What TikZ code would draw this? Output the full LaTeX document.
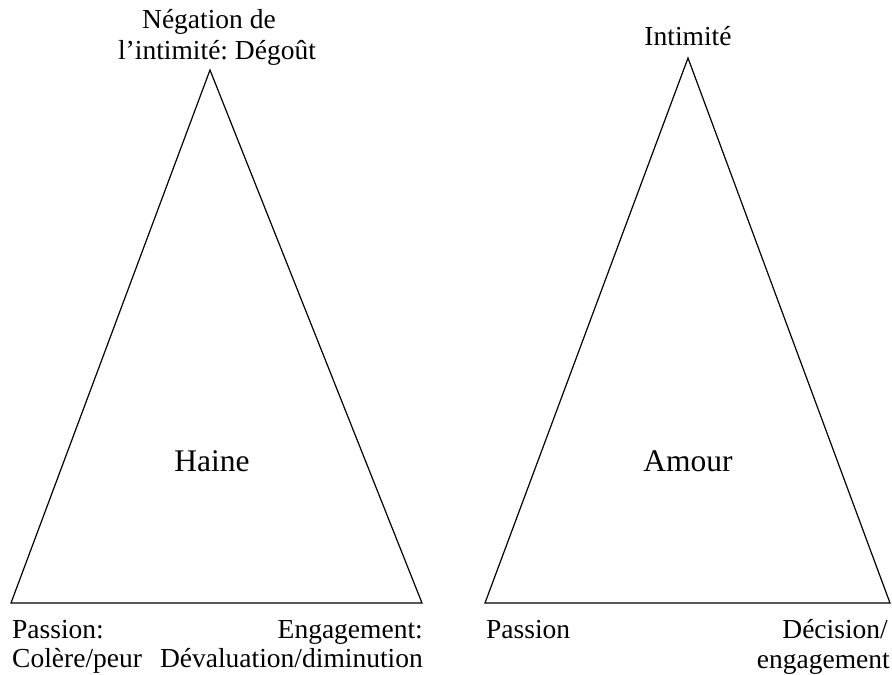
\documentclass[tikz,border=0pt]{standalone}
\usepackage{fontspec}
\setmainfont{Liberation Serif}
\frenchspacing
\begin{document}
\begin{tikzpicture}[x=1pt,y=-1pt,
  tri/.style={draw=black,line width=1.2pt,line join=miter},
  lbl/.style={inner sep=0pt,font=\fontsize{27.5}{31}\selectfont},
  big/.style={inner sep=0pt,font=\fontsize{31.5}{36}\selectfont}]
\useasboundingbox (0,0) rectangle (892,675);

% Hate triangle
\coordinate (hA) at (210,70);
\coordinate (hL) at (11,603);
\coordinate (hR) at (422,603);
\draw[tri] (hA) -- (hL) -- (hR) -- cycle;
\node[big,anchor=base] (haine) at (212,471) {Haine};
\node[lbl,anchor=base] (hTop1) at (209,28) {Négation de};
\node[lbl,anchor=base] (hTop2) at (217,59) {l’intimité: Dégoût};
\node[lbl,anchor=base west] (hBL1) at (12,638) {Passion:};
\node[lbl,anchor=base west] (hBL2) at (12,667) {Colère/peur};
\node[lbl,anchor=base east] (hBR1) at (423,638) {Engagement:};
\node[lbl,anchor=base east] (hBR2) at (423,667) {Dévaluation/diminution};

% Love triangle
\coordinate (aA) at (688,58);
\coordinate (aL) at (485,603);
\coordinate (aR) at (890,603);
\draw[tri] (aA) -- (aL) -- (aR) -- cycle;
\node[big,anchor=base] (amour) at (688,471) {Amour};
\node[lbl,anchor=base] (aTop) at (688,45) {Intimité};
\node[lbl,anchor=base west] (aBL) at (486,638) {Passion};
\node[lbl,anchor=base east] (aBR1) at (888,638) {Décision/};
\node[lbl,anchor=base east] (aBR2) at (890,668) {engagement};
\end{tikzpicture}
\end{document}
